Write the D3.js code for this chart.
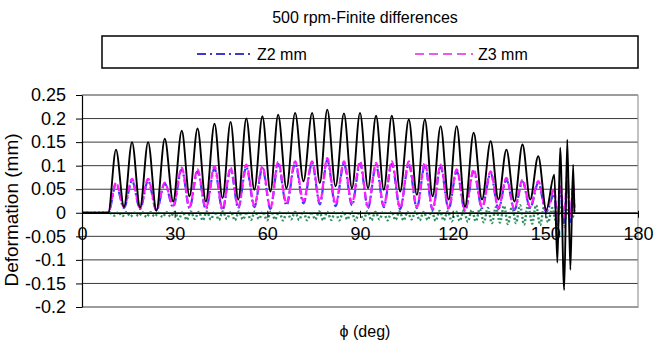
<!DOCTYPE html>
<html><head><meta charset="utf-8">
<script src="https://cdn.jsdelivr.net/npm/d3@7"></script>
<style>body{margin:0;background:#fff} text{font-family:"Liberation Sans",Arial,sans-serif;fill:#000}</style>
</head><body><svg id="c" width="654" height="350"></svg>
<script>
const chartTitle = "500 rpm-Finite differences";
const xTitle = "ϕ (deg)";
const yTitle = "Deformation (mm)";
const xTicks = [0, 30, 60, 90, 120, 150, 180];
const yTicks = [0.25, 0.2, 0.15, 0.1, 0.05, 0, -0.05, -0.1, -0.15, -0.2];
const yTickLabels = ["0.25", "0.2", "0.15", "0.1", "0.05", "0", "-0.05", "-0.1", "-0.15", "-0.2"];
const legendNames = ["Z2 mm", "Z3 mm"];

// shared angle grid for Z1 (black), Z2, Z3 (peaks / troughs)
const phi = [0, 8.5,
  11.0,13.6, 16.2,18.8, 21.4,24.1, 26.8,29.5, 32.3,34.8, 37.4,40.1, 42.9,45.5, 48.1,50.6,
  53.2,55.8, 58.4,61.0, 63.5,66.2, 69.0,71.7, 74.5,77.0, 79.4,82.1, 84.8,87.4, 90.0,92.6,
  95.2,97.7, 100.3,103.0, 105.8,108.4, 111.0,113.5, 116.1,118.7, 121.3,124.0, 126.8,129.5,
  132.3,134.8, 137.4,140.0, 142.6,145.1, 147.7,150.3,
  152.9, 153.9, 154.8, 156.1, 157.1, 158.1, 159.0, 159.4];

const z1 = [0, 0,
  0.134,0.012, 0.150,0.011, 0.150,0.004, 0.157,0.024, 0.174,0.035, 0.179,0.024, 0.189,0.031, 0.193,0.028,
  0.200,0.049, 0.205,0.045, 0.208,0.052, 0.212,0.067, 0.212,0.063, 0.219,0.056, 0.211,0.052, 0.212,0.052,
  0.206,0.049, 0.206,0.045, 0.198,0.038, 0.198,0.035, 0.184,0.028, 0.184,0.013, 0.170,0.028,
  0.152,0.028, 0.134,0.024, 0.145,0.028, 0.120,0.006,
  0.081, -0.106, 0.138, -0.164, 0.155, -0.121, 0.102, 0.0];

const z2 = [0, 0,
  0.060,0.010, 0.068,0.008, 0.068,0.005, 0.062,0.012, 0.092,0.010, 0.088,0.008, 0.094,0.006, 0.092,0.010,
  0.097,0.012, 0.095,0.008, 0.104,0.016, 0.104,0.020, 0.105,0.018, 0.112,0.014, 0.104,0.016, 0.104,0.010,
  0.101,0.012, 0.104,0.008, 0.103,0.010, 0.101,0.006, 0.097,0.008, 0.088,0.004, 0.088,0.010,
  0.084,0.008, 0.070,0.006, 0.066,0.010, 0.063,0.002,
  0.040, -0.035, 0.050, -0.030, 0.070, -0.020, 0.050, 0.005];

const z3 = [0, 0,
  0.064,0.012, 0.072,0.010, 0.072,0.006, 0.064,0.015, 0.096,0.012, 0.092,0.010, 0.099,0.008, 0.096,0.012,
  0.102,0.015, 0.099,0.010, 0.108,0.020, 0.109,0.025, 0.109,0.022, 0.116,0.018, 0.109,0.020, 0.109,0.012,
  0.106,0.015, 0.109,0.010, 0.109,0.012, 0.106,0.008, 0.102,0.010, 0.092,0.006, 0.092,0.012,
  0.088,0.010, 0.074,0.008, 0.070,0.012, 0.067,0.004,
  0.050, -0.020, 0.060, -0.010, 0.080, -0.010, 0.060, 0.010];

// Z4 (green dotted) small oscillation
const phi4 = [0, 9.0, 10.5,11.8, 13.1,14.4, 15.7,17.0, 18.3,19.6, 20.9,22.2, 23.5,24.8, 26.1,27.4, 28.7,30.0,
  31.3,32.6, 33.9,35.2, 36.5,37.8, 39.1,40.4, 41.7,43.0, 44.3,45.6, 46.9,48.2, 49.5,50.8, 52.1,53.4,
  54.7,56.0, 57.3,58.6, 59.9,61.2, 62.5,63.8, 65.1,66.4, 67.7,69.0, 70.3,71.6, 72.9,74.2, 75.5,76.8,
  78.1,79.4, 80.7,82.0, 83.3,84.6, 85.9,87.2, 88.5,89.8, 91.1,92.4, 93.7,95.0, 96.3,97.6, 98.9,100.2,
  101.5,102.8, 104.1,105.4, 106.7,108.0, 109.3,110.6, 111.9,113.2, 114.5,115.8, 117.1,118.4, 119.7,121.0,
  122.3,123.6, 124.9,126.2, 127.5,128.8, 130.1,131.4, 132.7,134.0, 135.3,136.6, 137.9,139.2, 140.5,141.8,
  143.1,144.4, 145.7,147.0, 148.3,149.6, 150.9,152.2, 153.5,154.8, 156.1,157.4, 158.7,159.4];
const z4 = [0, 0, -0.006,0.001, -0.007,0.001, -0.008,0.000, -0.007,0.001, -0.009,0.001, -0.008,0.000, -0.009,0.001, -0.008,0.002,
  -0.014,0.002, -0.015,0.003, -0.013,0.002, -0.016,0.003, -0.014,0.002, -0.015,0.003, -0.013,0.002, -0.016,0.003, -0.014,0.002,
  -0.015,0.003, -0.013,0.002, -0.016,0.003, -0.014,0.002, -0.016,0.003, -0.014,0.002, -0.015,0.003, -0.016,0.002, -0.014,0.003,
  -0.016,0.002, -0.015,0.003, -0.016,0.002, -0.014,0.003, -0.016,0.002, -0.015,0.003, -0.016,0.002, -0.014,0.003, -0.016,0.002,
  -0.015,0.003, -0.016,0.002, -0.014,0.003, -0.016,0.002, -0.015,0.003, -0.017,0.004, -0.016,0.003, -0.018,0.004,
  -0.017,0.005, -0.019,0.006, -0.018,0.008, -0.020,0.010, -0.022,0.012, -0.021,0.015, -0.024,0.014, -0.022,0.016,
  -0.025,0.018, -0.023,0.016, -0.026,0.012, -0.020,0.010, -0.018,0.015, -0.020,0.012, -0.010,0];

const svg = d3.select("#c");
const x = d3.scaleLinear().domain([0, 180]).range([82, 638]);
const y = d3.scaleLinear().domain([-0.2, 0.25]).range([307, 95]);

// title
svg.append("text").attr("x", 365).attr("y", 23).attr("text-anchor", "middle")
  .style("font-size", "16px").text(chartTitle);

// legend box
const lg = svg.append("g");
lg.append("rect").attr("x", 102).attr("y", 36).attr("width", 536).attr("height", 32)
  .attr("fill", "#fff").attr("stroke", "#000").attr("stroke-width", 1.5);
const legendStyles = [
  {color: "#3c3cc8", dash: "9,4,2,4", x1: 197, x2: 250, tx: 257},
  {color: "#e85ce8", dash: "9,5", x1: 415, x2: 473, tx: 478}
];
legendNames.forEach((n, i) => {
  const s = legendStyles[i];
  lg.append("line").attr("x1", s.x1).attr("x2", s.x2).attr("y1", 54).attr("y2", 54)
    .attr("stroke", s.color).attr("stroke-width", 2).attr("stroke-dasharray", s.dash);
  lg.append("text").attr("x", s.tx).attr("y", 60).style("font-size", "16px").text(n);
});

// gridlines
svg.append("g").selectAll("line").data(yTicks).join("line")
  .attr("x1", 82).attr("x2", 638).attr("y1", d => y(d)).attr("y2", d => y(d))
  .attr("stroke", "#3a3a3a").attr("stroke-width", 1);
// right border
svg.append("line").attr("x1", 638).attr("x2", 638).attr("y1", y(0.25)).attr("y2", y(-0.2) + 1)
  .attr("stroke", "#9a9a9a").attr("stroke-width", 1.2);

// y axis
const yAxis = d3.axisLeft(y).tickValues(yTicks).tickSize(6).tickSizeOuter(0)
  .tickFormat((d, i) => yTickLabels[i]);
const gy = svg.append("g").attr("transform", "translate(82,0)").call(yAxis);
gy.select(".domain").attr("stroke", "#000").attr("stroke-width", 1.2);
gy.selectAll(".tick line").attr("stroke", "#000");
gy.selectAll("text").style("font-size", "18px").attr("x", -16).attr("fill", "#000")
  .style("font-family", '"Liberation Sans",Arial,sans-serif');

// lines
const line = (xs, ys) => d3.line().curve(d3.curveMonotoneX)
  .x((d, i) => x(xs[i])).y((d, i) => y(ys[i]))(ys);

svg.append("path").attr("d", line(phi4, z4)).attr("fill", "none")
  .attr("stroke", "#2f8f60").attr("stroke-width", 2.4).attr("stroke-dasharray", "2,2");
svg.append("path").attr("d", line(phi, z2)).attr("fill", "none")
  .attr("stroke", "#3a3aff").attr("stroke-width", 2.2).attr("stroke-dasharray", "8,3,2,3");
svg.append("path").attr("d", line(phi, z3)).attr("fill", "none")
  .attr("stroke", "#ff1cff").attr("stroke-width", 2.2).attr("stroke-dasharray", "7,3");
svg.append("path").attr("d", line(phi, z1)).attr("fill", "none")
  .attr("stroke", "#000").attr("stroke-width", 1.9);

// x axis at y = 0
const xAxis = d3.axisBottom(x).tickValues(xTicks).tickSize(5).tickSizeOuter(0).tickFormat(d3.format("d"));
const gx = svg.append("g").attr("transform", `translate(0,${y(0)})`).call(xAxis);
gx.select(".domain").attr("stroke", "#000").attr("stroke-width", 1.2);
gx.selectAll(".tick line").attr("stroke", "#000").attr("y1", -2);
gx.selectAll("text").style("font-size", "18px").attr("y", 14).attr("dy", "0.71em").attr("fill", "#000")
  .style("font-family", '"Liberation Sans",Arial,sans-serif');

// axis titles
svg.append("text").attr("x", 365).attr("y", 337).attr("text-anchor", "middle")
  .style("font-size", "16px").text(xTitle);
svg.append("text").attr("transform", "translate(18,210) rotate(-90)").attr("text-anchor", "middle")
  .style("font-size", "19px").text(yTitle);
</script></body></html>
